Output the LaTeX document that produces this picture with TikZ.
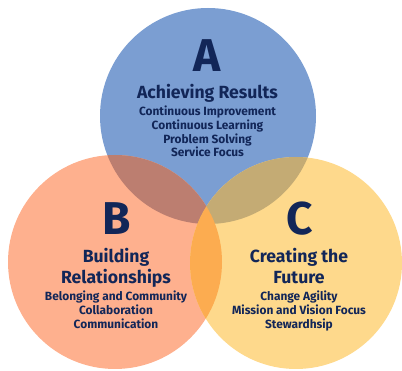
\documentclass[tikz,border=0pt]{standalone}
\usepackage{fontspec}
\setmainfont{Fira Sans}
\definecolor{cA}{RGB}{123,158,210}
\definecolor{cB}{RGB}{254,176,142}
\definecolor{cC}{RGB}{254,217,140}
\definecolor{cAB}{RGB}{188,126,112}
\definecolor{cAC}{RGB}{196,171,116}
\definecolor{cBC}{RGB}{252,172,80}
\definecolor{ink}{RGB}{18,38,88}
\begin{document}
\begin{tikzpicture}[x=1pt,y=-1pt,
  letter/.style={font=\bfseries\fontsize{46}{46}\selectfont, text=ink, anchor=base, inner sep=0pt},
  head/.style={font=\bfseries\fontsize{17.6}{17.6}\selectfont, text=ink, anchor=base, inner sep=0pt},
  item/.style={font=\bfseries\fontsize{11.9}{11.9}\selectfont, text=ink, anchor=base, inner sep=0pt}]
\useasboundingbox (0,0) rectangle (402,371);
\coordinate (A) at (208,116);
\coordinate (B) at (115,262);
\coordinate (C) at (296,263);
\fill[cA] (A) circle[radius=108];
\fill[cB] (B) circle[radius=107];
\fill[cC] (C) circle[radius=106];
\begin{scope}
  \clip (A) circle[radius=108];
  \fill[cAB] (B) circle[radius=107];
  \fill[cAC] (C) circle[radius=106];
\end{scope}
\begin{scope}
  \clip (B) circle[radius=107];
  \fill[cBC] (C) circle[radius=106];
\end{scope}
% A
\node[letter] (la) at (207,72) {A};
\node[head] (ha) at (207.5,99) {Achieving Results};
\node[item] (a1) at (207.5,116) {Continuous Improvement};
\node[item] (a2) at (207.5,130) {Continuous Learning};
\node[item] (a3) at (207.5,143.5) {Problem Solving};
\node[item] (a4) at (207.5,157) {Service Focus};
% B
\node[letter] (lb) at (116.5,235) {B};
\node[head] (hb1) at (116,263) {Building};
\node[head] (hb2) at (116,284) {Relationships};
\node[item] (b1) at (116,301) {Belonging and Community};
\node[item] (b2) at (116,315) {Collaboration};
\node[item] (b3) at (116,329) {Communication};
% C
\node[letter] (lc) at (300,235) {C};
\node[head] (hc1) at (299,263) {Creating the};
\node[head] (hc2) at (299,284) {Future};
\node[item] (c1) at (299,301) {Change Agility};
\node[item] (c2) at (299,315) {Mission and Vision Focus};
\node[item] (c3) at (299,329) {Stewardhsip};
\end{tikzpicture}
\end{document}
